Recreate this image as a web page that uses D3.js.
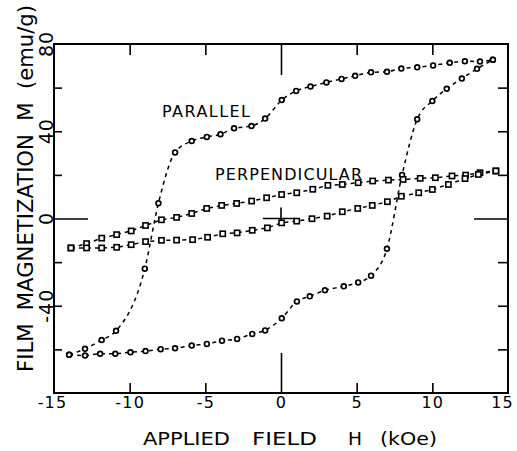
<!DOCTYPE html>
<html>
<head>
<meta charset="utf-8">
<script src="https://cdn.jsdelivr.net/npm/d3@7/dist/d3.min.js"></script>
<style>
  body { margin: 0; background: #fff; }
  svg { display: block; }
  text { font-family: "DejaVu Sans", "Liberation Sans", sans-serif; fill: #000; }
</style>
</head>
<body>
<script>
// ---- data ----
const xTickValues = [-15, -10, -5, 0, 5, 10, 15];
const yTickLabels = [-40, 0, 40, 80];
const yMinorTicks = [-60, -40, -20, 0, 20, 40, 60];

// PARALLEL – descending-field branch (upper)
const parDownH = [14.0, 13.15, 12.15, 11.15, 10.05, 9.0, 7.95, 7.0, 5.95, 4.9, 4.0, 3.0, 1.95, 1.0, 0.05, -1.05, -1.95, -3.1, -4.0, -4.9, -5.9, -7.0, -8.1, -9.0, -10.9, -11.85, -12.95, -14.0];
const parDownM = [72.8, 72.0, 72.1, 71.4, 70.2, 69.3, 68.8, 67.3, 67.0, 65.4, 64.0, 62.4, 60.5, 58.5, 54.3, 45.8, 42.4, 41.4, 38.6, 37.4, 35.5, 30.3, 7.0, -23.0, -51.5, -55.7, -59.7, -62.5];
// PARALLEL – ascending-field branch (lower)
const parUpH = [-14.0, -12.95, -11.95, -10.95, -9.95, -8.95, -7.95, -7.0, -5.9, -4.9, -3.9, -2.9, -1.9, -1.05, 0.05, 1.05, 1.9, 2.9, 4.15, 5.1, 5.95, 7.0, 8.0, 9.0, 10.0, 10.95, 11.95, 12.95, 14.0];
const parUpM = [-62.5, -62.8, -62.0, -62.0, -61.3, -60.8, -59.9, -59.5, -58.2, -57.5, -56.0, -55.2, -52.9, -51.3, -45.7, -38.0, -35.7, -32.9, -31.1, -29.3, -26.2, -13.9, 20.0, 45.5, 53.9, 59.5, 64.2, 68.6, 72.8];

// PERPENDICULAR – descending-field branch (upper)
const perDownH = [14.2, 13.15, 12.2, 11.3, 10.2, 9.2, 8.07, 7.1, 6.06, 5.1, 4.05, 3.1, 2.1, 1.04, 0.04, -0.95, -1.94, -2.93, -3.92, -4.91, -5.9, -6.9, -7.9, -8.95, -9.9, -10.86, -11.85, -12.85, -13.88];
const perDownM = [21.8, 21.0, 19.9, 19.5, 18.7, 18.4, 17.9, 17.6, 17.2, 16.4, 15.6, 15.2, 13.4, 11.8, 11.0, 9.5, 8.0, 6.9, 6.0, 4.6, 2.3, 0.5, -0.6, -3.2, -5.7, -7.4, -9.0, -11.5, -13.5];
// PERPENDICULAR – ascending-field branch (lower)
const perUpH = [-13.88, -12.85, -11.85, -10.86, -9.9, -8.95, -7.9, -6.9, -5.84, -4.85, -3.85, -2.9, -1.9, -0.9, 0.04, 1.04, 2.05, 3.05, 4.05, 5.07, 6.03, 7.03, 7.95, 9.1, 10.0, 11.06, 12.16, 13.04, 14.2];
const perUpM = [-13.5, -13.5, -13.5, -13.2, -12.0, -10.6, -10.0, -9.9, -9.7, -8.6, -7.0, -6.6, -5.4, -4.3, -2.0, -1.2, -0.1, 1.1, 3.1, 4.6, 6.0, 7.7, 10.2, 11.8, 13.3, 15.6, 18.3, 20.2, 21.8];

const labelParallel = "PARALLEL";
const labelPerp = "PERPENDICULAR";
const xTitle = ["APPLIED", "FIELD", "H", "(kOe)"];
const yTitle = "FILM  MAGNETIZATION  M  (emu/g)";

// ---- drawing ----
const W = 517, H = 451;
const svg = d3.select("body").append("svg").attr("width", W).attr("height", H);
const x = d3.scaleLinear().domain([-15, 15]).range([54, 508]);
const y = d3.scaleLinear().domain([-80, 80]).range([393, 44]);

const ink = "#000";

// frame
svg.append("rect")
  .attr("x", x(-15)).attr("y", y(80))
  .attr("width", x(15) - x(-15)).attr("height", y(-80) - y(80))
  .attr("fill", "none").attr("stroke", ink).attr("stroke-width", 2);

function styleAxis(g) {
  g.select(".domain").remove();
  g.selectAll(".tick line").attr("stroke", ink).attr("stroke-width", 1.6);
}

// bottom axis
const gb = svg.append("g").attr("transform", `translate(0,${y(-80)})`)
  .call(d3.axisBottom(x).tickValues(xTickValues).tickSize(-10).tickPadding(4).tickFormat(d => String(d)));
styleAxis(gb);
gb.selectAll(".tick line").filter(d => d === 0).attr("y2", -40);
gb.selectAll(".tick line").filter(d => Math.abs(d) === 15).remove();
gb.selectAll(".tick text").attr("font-family", "DejaVu Sans").attr("font-size", 16)
  .attr("letter-spacing", 1.2).attr("fill", ink)
  .attr("dx", d => d === 15 ? -6 : (d === -15 ? -2 : 0));

// top axis
const gt = svg.append("g").attr("transform", `translate(0,${y(80)})`)
  .call(d3.axisTop(x).tickValues([-10, -5, 0, 5, 10]).tickSize(-11).tickFormat(""));
styleAxis(gt);
gt.selectAll(".tick line").filter(d => d === 0).attr("y2", 31);

// left axis
const gl = svg.append("g").attr("transform", `translate(${x(-15)},0)`)
  .call(d3.axisLeft(y).tickValues(yMinorTicks).tickSize(-8).tickFormat(""));
styleAxis(gl);
gl.selectAll(".tick line").filter(d => d === 0).attr("x2", 34);

// right axis
const gr = svg.append("g").attr("transform", `translate(${x(15)},0)`)
  .call(d3.axisRight(y).tickValues(yMinorTicks).tickSize(-10).tickFormat(""));
styleAxis(gr);
gr.selectAll(".tick line").filter(d => d === 0).attr("x2", -34);

// y tick labels (rotated)
svg.append("g").selectAll("text").data(yTickLabels).join("text")
  .attr("transform", d => `translate(${x(-15) - 1},${y(d)}) rotate(-90)`)
  .attr("text-anchor", "middle")
  .attr("font-size", 19)
  .attr("letter-spacing", 1)
  .text(d => String(d));

// origin cross
svg.append("line").attr("x1", x(-1.2)).attr("x2", x(0.9)).attr("y1", y(0)).attr("y2", y(0))
  .attr("stroke", ink).attr("stroke-width", 1.6);
svg.append("line").attr("x1", x(0)).attr("x2", x(0)).attr("y1", y(5)).attr("y2", y(-3))
  .attr("stroke", ink).attr("stroke-width", 1.6);

// series
function pts(hs, ms) { return hs.map((h, i) => ({ h, m: ms[i] })); }
const series = [
  { p: pts(parDownH, parDownM), shape: "circle", smooth: true },
  { p: pts(parUpH, parUpM), shape: "circle", smooth: true },
  { p: pts(perDownH, perDownM), shape: "square", smooth: false },
  { p: pts(perUpH, perUpM), shape: "square", smooth: false }
];

const gLines = svg.append("g");
const gMarks = svg.append("g");
series.forEach(s => {
  const sorted = d3.sort(s.p, d => d.h);
  const line = d3.line().x(d => x(d.h)).y(d => y(d.m))
    .curve(s.smooth ? d3.curveMonotoneX : d3.curveLinear);
  gLines.append("path").attr("d", line(sorted))
    .attr("fill", "none").attr("stroke", ink).attr("stroke-width", 1.5)
    .attr("stroke-dasharray", "4 4");
  if (s.shape === "circle") {
    gMarks.append("g").selectAll("circle").data(s.p).join("circle")
      .attr("cx", d => x(d.h)).attr("cy", d => y(d.m)).attr("r", 2.4)
      .attr("fill", "#fff").attr("stroke", ink).attr("stroke-width", 1.7);
  } else {
    gMarks.append("g").selectAll("rect").data(s.p).join("rect")
      .attr("x", d => x(d.h) - 2.6).attr("y", d => y(d.m) - 2.6)
      .attr("width", 5.2).attr("height", 5.2)
      .attr("fill", "#fff").attr("stroke", ink).attr("stroke-width", 1.6);
  }
});

// curve labels
svg.append("text").attr("x", 162).attr("y", 117).attr("font-size", 16)
  .attr("textLength", 88).attr("lengthAdjust", "spacing").text(labelParallel);
svg.append("text").attr("x", 215).attr("y", 180).attr("font-size", 16)
  .attr("textLength", 147).attr("lengthAdjust", "spacing").text(labelPerp);

// x title
const xTitlePos = [[143, 87], [252, 65], [348, 14], [380, 57]];
svg.append("g").selectAll("text").data(xTitle).join("text")
  .attr("x", (d, i) => xTitlePos[i][0]).attr("y", 445)
  .attr("font-size", 17)
  .attr("textLength", (d, i) => xTitlePos[i][1]).attr("lengthAdjust", "spacingAndGlyphs")
  .text(d => d);

// y title
svg.append("text")
  .attr("transform", `translate(33,372) rotate(-90)`)
  .attr("font-size", 21)
  .attr("xml:space", "preserve")
  .style("white-space", "pre")
  .attr("textLength", 367).attr("lengthAdjust", "spacingAndGlyphs")
  .text(yTitle);
</script>
</body>
</html>
